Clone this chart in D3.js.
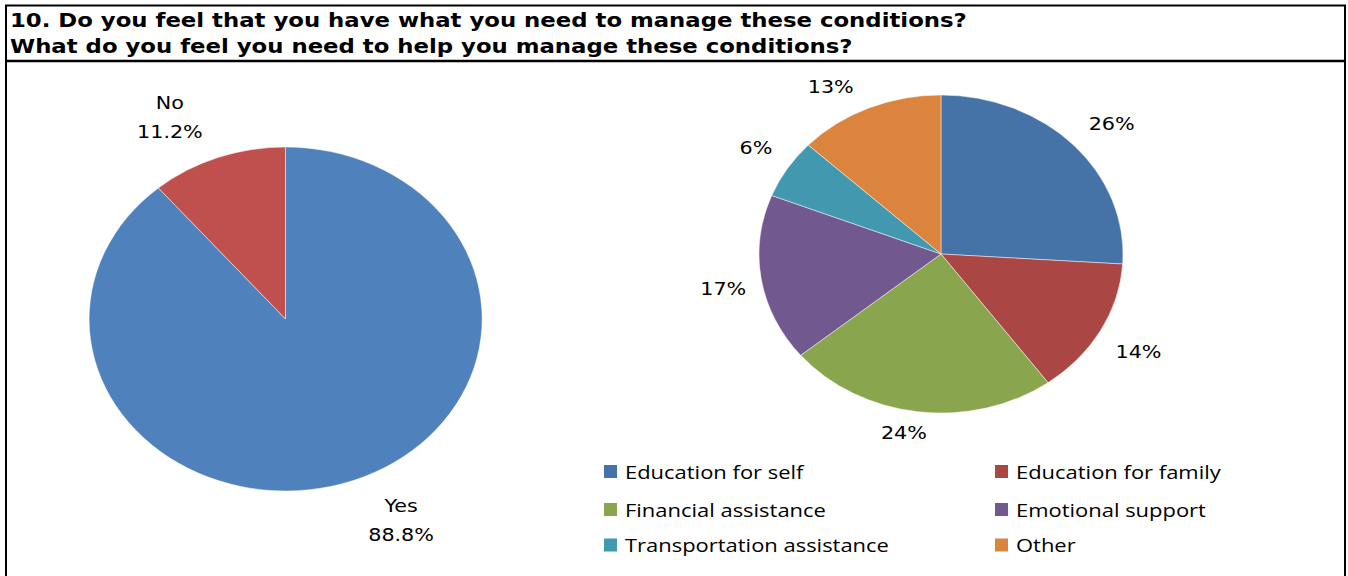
<!DOCTYPE html>
<html>
<head>
<meta charset="utf-8">
<script src="https://cdn.jsdelivr.net/npm/d3@7"></script>
<style>
  html, body { margin: 0; padding: 0; background: #fff; }
  svg { display: block; }
</style>
</head>
<body>
<svg id="chart" width="1348" height="576"></svg>
<script>
// Survey question 10: two pie charts
const titleLines = [
  "10. Do you feel that you have what you need to manage these conditions?",
  "What do you feel you need to help you manage these conditions?"
];

// Left pie: do you have what you need?
const haveCategories = ["Yes", "No"];
const haveValues = [88.8, 11.2];
const haveColors = ["#4F81BD", "#C0504D"];

// Right pie: what do you need?
const needCategories = [
  "Education for self", "Education for family", "Financial assistance",
  "Emotional support", "Transportation assistance", "Other"
];
const needValues = [26, 14, 24, 17, 6, 13];
const needColors = ["#4572A7", "#AA4643", "#89A54E", "#71588F", "#4198AF", "#DB843D"];

const svg = d3.select("#chart");
const W = 1348, H = 576;
const SX = 1.15; // horizontal stretch of the data labels

svg.append("rect").attr("width", W).attr("height", H).attr("fill", "#fff");

// Horizontally stretched text placed at (x, y)
function stretchedText(parent, x, y, s, sx) {
  return parent.append("text")
    .attr("transform", `translate(${x},${y}) scale(${sx},1)`)
    .text(s);
}

// Frame and title band
const frame = svg.append("g").attr("fill", "none").attr("stroke", "#000");
frame.append("rect").attr("x", 6).attr("y", 5.5).attr("width", 1339).attr("height", 580)
  .attr("stroke-width", 2);
frame.append("line").attr("x1", 6).attr("x2", 1345).attr("y1", 61).attr("y2", 61)
  .attr("stroke-width", 2.5);

const title = svg.append("g")
  .attr("font-family", "DejaVu Sans, Verdana, sans-serif")
  .attr("font-weight", "bold")
  .attr("font-size", 20)
  .attr("fill", "#000");
titleLines.forEach((s, i) => stretchedText(title, 10, 27 + i * 26, s, 1.14));

const labelFont = "DejaVu Sans, Verdana, sans-serif";
const labelSize = 18;
const lineStep = 29;

// Draws an elliptical pie: unit-circle arcs stretched to rx/ry,
// labels set just outside the rim at each slice's mid-angle
function drawPie(opts) {
  const { cx, cy, rx, ry, values, colors, labels, gx, gy } = opts;
  const pie = d3.pie().sort(null).value(d => d)(values);
  const arc = d3.arc().innerRadius(0).outerRadius(1);
  const g = svg.append("g").attr("transform", `translate(${cx},${cy})`);
  g.append("g").attr("transform", `scale(${rx},${ry})`)
    .selectAll("path").data(pie).join("path")
    .attr("d", arc)
    .attr("fill", (d, i) => colors[i])
    .attr("stroke", "#fff")
    .attr("stroke-opacity", 0.6)
    .attr("stroke-width", 0.8)
    .attr("vector-effect", "non-scaling-stroke");

  const lab = g.append("g")
    .attr("font-family", labelFont)
    .attr("font-size", labelSize)
    .attr("fill", "#000")
    .attr("text-anchor", "middle");
  const clamp = v => Math.max(-1, Math.min(1, v));
  pie.forEach((d, i) => {
    const a = (d.startAngle + d.endAngle) / 2;
    const px = Math.sin(a) * rx, py = -Math.cos(a) * ry;
    const lines = labels(i);
    const t = lab.append("g");
    const texts = lines.map(s => stretchedText(t, 0, 0, s, SX));
    const w = d3.max(texts, n => n.node().getComputedTextLength()) * SX;
    const h = lines.length * 22;
    const x = px + clamp(Math.sin(a) * 3) * (w / 2 + gx);
    const y = py + clamp(-Math.cos(a) * 3) * (h / 2 + gy);
    const n = lines.length;
    texts.forEach((node, k) => {
      node.attr("dy", "0.35em")
        .attr("transform", `translate(${x},${y + (k - (n - 1) / 2) * lineStep}) scale(${SX},1)`);
    });
  });
}

drawPie({
  cx: 285.5, cy: 319, rx: 196.5, ry: 172,
  values: haveValues, colors: haveColors, gx: 15, gy: 18,
  labels: i => [haveCategories[i], d3.format(".1f")(haveValues[i]) + "%"]
});

drawPie({
  cx: 941, cy: 254, rx: 182, ry: 159,
  values: needValues, colors: needColors, gx: 15, gy: 10,
  labels: i => [needValues[i] + "%"]
});

// Legend: two columns, three rows
const legend = svg.append("g")
  .attr("font-family", "Open Sans, Lato, sans-serif")
  .attr("font-size", 18)
  .attr("fill", "#000");
const colX = [604, 995];
const rowY = [471.5, 509.5, 545];
needCategories.forEach((name, i) => {
  const x = colX[i % 2], y = rowY[Math.floor(i / 2)];
  legend.append("rect")
    .attr("x", x).attr("y", y - 6.5)
    .attr("width", 13).attr("height", 13)
    .attr("fill", needColors[i]);
  stretchedText(legend, x + 21, y + 1, name, 1.22).attr("dy", "0.36em");
});
</script>
</body>
</html>
